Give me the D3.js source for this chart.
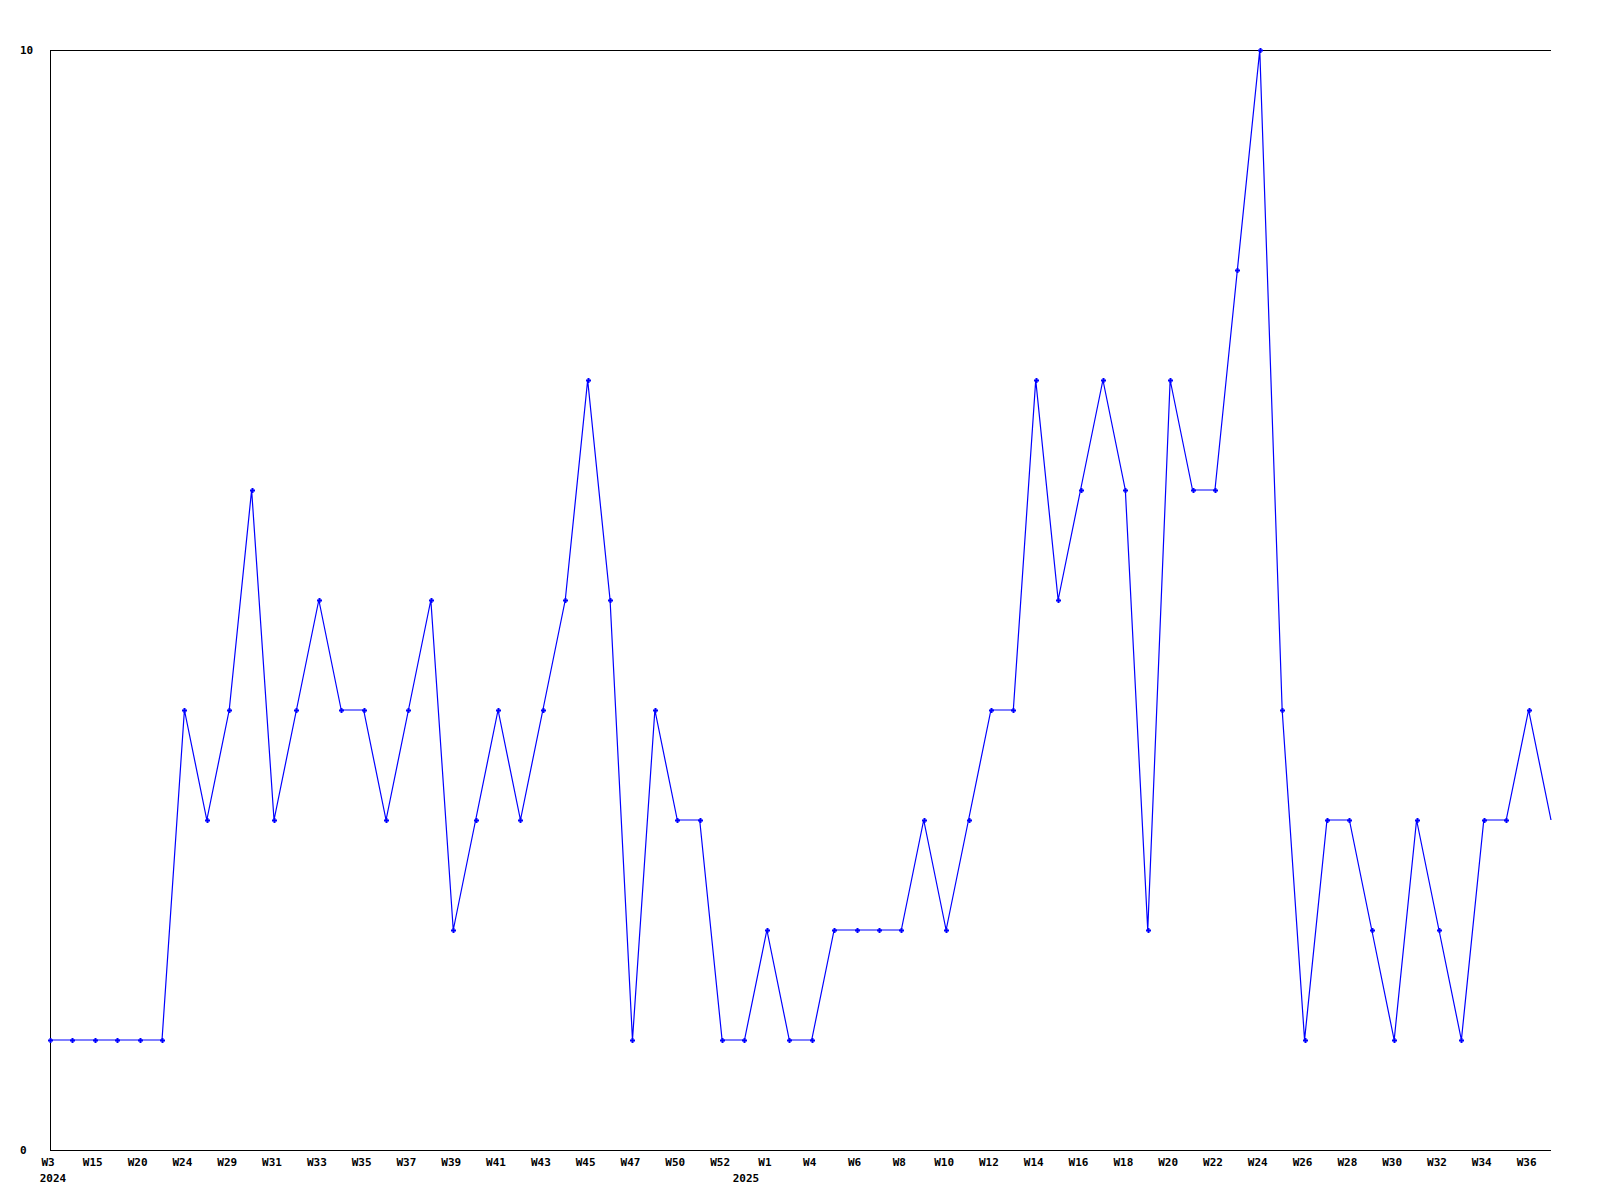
<!DOCTYPE html>
<html>
<head>
<meta charset="utf-8">
<script src="https://cdn.jsdelivr.net/npm/d3@7"></script>
<style>
  body { margin: 0; background: #fff; }
  svg { display: block; }
  text { font-family: "DejaVu Sans Mono", "Liberation Mono", monospace; font-weight: bold; font-size: 11px; fill: #000; }
</style>
</head>
<body>
<svg id="chart" width="1600" height="1200"></svg>
<script>
// ---- data ----
const weeks = [
  "W3","W10","W15","W18","W20","W22","W24","W27","W29","W30",
  "W31","W32","W33","W34","W35","W36","W37","W38","W39","W40",
  "W41","W42","W43","W44","W45","W46","W47","W49","W50","W51",
  "W52","W53","W1","W3","W4","W5","W6","W7","W8","W9",
  "W10","W11","W12","W13","W14","W15","W16","W17","W18","W19",
  "W20","W21","W22","W23","W24","W25","W26","W27","W28","W29",
  "W30","W31","W32","W33","W34","W35","W36","W37"
];
const years = [
  2024,2024,2024,2024,2024,2024,2024,2024,2024,2024,
  2024,2024,2024,2024,2024,2024,2024,2024,2024,2024,
  2024,2024,2024,2024,2024,2024,2024,2024,2024,2024,
  2024,2024,2025,2025,2025,2025,2025,2025,2025,2025,
  2025,2025,2025,2025,2025,2025,2025,2025,2025,2025,
  2025,2025,2025,2025,2025,2025,2025,2025,2025,2025,
  2025,2025,2025,2025,2025,2025,2025,2025
];
const values = [
  1,1,1,1,1,1,4,3,4,6,
  3,4,5,4,4,3,4,5,2,3,
  4,3,4,5,7,5,1,4,3,3,
  1,1,2,1,1,2,2,2,2,3,
  2,3,4,4,7,5,6,7,6,2,
  7,6,6,8,10,4,1,3,3,2,
  1,3,2,1,3,3,4,3
];
const yTicks = [0, 10];
const yearLabels = [{year: "2024", index: 0}, {year: "2025", index: 32}];

// ---- layout ----
const svg = d3.select("#chart");
const mLeft = 50, mRight = 1551, mTop = 50, mBottom = 1150;
const keys = values.map((v, i) => years[i] + "-" + weeks[i]);

const x = d3.scalePoint().domain(keys).range([mLeft, mRight]);
const y = d3.scaleLinear().domain([0, 10]).range([mBottom, mTop]);

const g = svg.append("g");

// axes frame lines
g.append("line").attr("x1", mLeft + 0.5).attr("x2", mLeft + 0.5).attr("y1", mTop).attr("y2", mBottom + 0.5)
  .attr("stroke", "#000").attr("stroke-width", 1);
g.append("line").attr("x1", mLeft).attr("x2", mRight).attr("y1", mTop + 0.5).attr("y2", mTop + 0.5)
  .attr("stroke", "#000").attr("stroke-width", 1);
g.append("line").attr("x1", mLeft).attr("x2", mRight).attr("y1", mBottom + 0.5).attr("y2", mBottom + 0.5)
  .attr("stroke", "#000").attr("stroke-width", 1);

// y tick labels
g.selectAll("text.ytick").data(yTicks).enter().append("text")
  .attr("class", "ytick")
  .attr("x", 20)
  .attr("y", d => y(d) + 4)
  .text(d => d);

// x tick labels (every other category)
const shownKeys = keys.filter((k, i) => i % 2 === 0);
g.selectAll("text.xtick").data(shownKeys).enter().append("text")
  .attr("class", "xtick")
  .attr("x", d => x(d) - 2)
  .attr("y", 1166)
  .attr("text-anchor", "middle")
  .text(d => d.split("-")[1]);

// year labels
g.selectAll("text.year").data(yearLabels).enter().append("text")
  .attr("class", "year")
  .attr("x", d => Math.max(x(keys[d.index]) - 21, 53))
  .attr("y", 1182)
  .attr("text-anchor", "middle")
  .text(d => d.year);

// line
const line = d3.line()
  .x((d, i) => x(keys[i]))
  .y(d => y(d));

g.append("path")
  .datum(values)
  .attr("d", line)
  .attr("fill", "none")
  .attr("stroke", "#0000ff")
  .attr("stroke-width", 1.2);

// markers (plus-shaped), omitted at the clipped right edge
const markerData = values.slice(0, values.length - 1);
g.selectAll("path.marker").data(markerData).enter().append("path")
  .attr("class", "marker")
  .attr("d", (d, i) => {
    const cx = Math.round(x(keys[i])) + 0.5, cy = Math.round(y(d)) + 0.5;
    return `M${cx-2.5},${cy}H${cx+2.5}M${cx},${cy-2.5}V${cy+2.5}`;
  })
  .attr("stroke", "#0000ff")
  .attr("stroke-width", 2)
  .attr("fill", "none");
</script>
</body>
</html>
